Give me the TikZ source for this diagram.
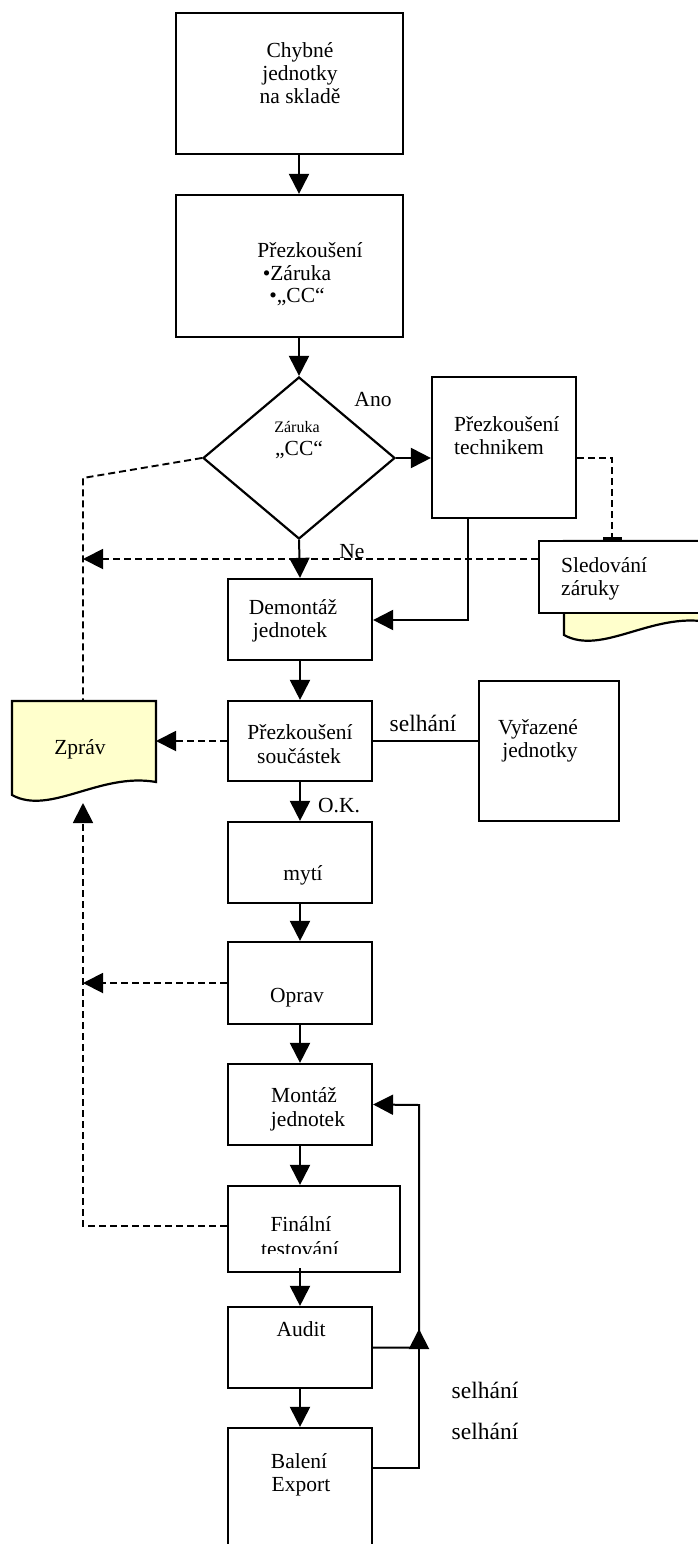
\documentclass[tikz,border=0pt]{standalone}
\usepackage{fontspec}
\setmainfont{Liberation Serif}
\usetikzlibrary{arrows.meta,shapes.geometric}
\definecolor{docyellow}{RGB}{255,255,204}
\tikzset{
  box/.style={draw, line width=2.2pt, inner sep=0pt, fill=white},
  lbl/.style={font=\fontsize{21.5}{23}\selectfont, inner sep=0pt, anchor=base},
  lbll/.style={lbl, anchor=base west},
  biglbl/.style={font=\fontsize{23.5}{26}\selectfont, inner sep=0pt, anchor=base},
  smalllbl/.style={font=\fontsize{16}{18}\selectfont, inner sep=0pt, anchor=base},
  flow/.style={line width=2pt, -{Triangle[length=20pt,width=20pt]}},
  link/.style={line width=2pt},
  ref/.style={line width=1.9pt, dash pattern=on 7pt off 4pt},
  refarrow/.style={ref, -{Triangle[length=20pt,width=20pt]}},
  docshape/.style={fill=docyellow, draw, line width=2.2pt},
}
\begin{document}
\begin{tikzpicture}[x=1pt, y=-1pt]
\useasboundingbox (0,0) rectangle (698,1544);
\clip (0,0) rectangle (698,1544);

% --- main column boxes
\node[box, minimum width=227pt, minimum height=141pt] (stock) at (289.5,83.5) {};
\node[box, minimum width=227pt, minimum height=142pt] (check) at (289.5,266) {};
\node[box, diamond, minimum width=192pt, minimum height=162pt] (warr) at (299,458) {};
\node[box, minimum width=144pt, minimum height=141pt] (tech) at (504,447.5) {};

% warranty tracking: document behind a white box
\filldraw[docshape] (564,541) -- (708,541) -- (708,622)
  .. controls (652,612) and (602,656) .. (564,635) -- cycle;
\node[box, minimum width=181pt, minimum height=72pt] (track) at (629.5,577) {};

% report document
\filldraw[docshape] (12,701) -- (156,701) -- (156,782)
  .. controls (100,772) and (50,816) .. (12,795) -- cycle;
\coordinate (repE) at (156,741);
\coordinate (repN) at (83,701);
\coordinate (repS) at (83,803);
\coordinate (railTop) at (83,478);
\coordinate (railBot) at (83,1226);
\coordinate (ne) at (83,559);

\node[box, minimum width=144pt, minimum height=81pt] (dis) at (300,619.5) {};
\node[box, minimum width=144pt, minimum height=80pt] (parts) at (300,741) {};
\node[box, minimum width=140pt, minimum height=140pt] (scrap) at (549,751) {};
\node[box, minimum width=144pt, minimum height=81pt] (wash) at (300,862.5) {};
\node[box, minimum width=144pt, minimum height=82pt] (repair) at (300,983) {};
\node[box, minimum width=144pt, minimum height=81pt] (assy) at (300,1104.5) {};
\node[box, minimum width=172pt, minimum height=86pt] (final) at (314,1229) {};
\node[box, minimum width=144pt, minimum height=81pt] (audit) at (300,1347.5) {};
\node[box, minimum width=144pt, minimum height=132pt] (pack) at (300,1494) {};

% --- texts
\node[lbl] (t-stock-1) at (300,58) {Chybné};
\node[lbl] (t-stock-2) at (300,81) {jednotky};
\node[lbl] (t-stock-3) at (300,104) {na skladě};
\node[lbl] (t-check-1) at (310,257) {Přezkoušení};
\node[lbl] (t-check-2) at (297,280) {•Záruka};
\node[lbl] (t-check-3) at (297,302) {•„CC“};
\node[smalllbl] (t-warr-1) at (297,432) {Záruka};
\node[lbl] (t-warr-2) at (299,455) {„CC“};
\node[lbl] (t-yes) at (373,406) {Ano};
\node[lbl] (t-no) at (352,558) {Ne};
\node[lbll] (t-tech-1) at (454,431) {Přezkoušení};
\node[lbll] (t-tech-2) at (454,454) {technikem};
\node[lbll] (t-track-1) at (561,572) {Sledování};
\node[lbll] (t-track-2) at (561,595) {záruky};
\node[lbl] (t-dis-1) at (293,614) {Demontáž};
\node[lbl] (t-dis-2) at (290,637) {jednotek};
\node[lbl] (t-rep) at (80,754) {Zpráv};
\node[lbl] (t-parts-1) at (300,739) {Přezkoušení};
\node[lbl] (t-parts-2) at (299,763) {součástek};
\node[biglbl] (t-fail-1) at (423,731) {selhání};
\node[lbl] (t-scrap-1) at (538,734) {Vyřazené};
\node[lbl] (t-scrap-2) at (540,757) {jednotky};
\node[lbl] (t-ok) at (339,812) {O.K.};
\node[lbl] (t-wash) at (303,880) {mytí};
\node[lbl] (t-repair) at (297,1002) {Oprav};
\node[lbl] (t-assy-1) at (304,1102) {Montáž};
\node[lbl] (t-assy-2) at (308,1126) {jednotek};
\node[lbl] (t-final-1) at (301,1231) {Finální};
\begin{scope}
  \clip (228,1186) rectangle (400,1253);
  \node[lbl] (t-final-2) at (300,1256) {testování};
\end{scope}
\node[lbl] (t-audit) at (301,1336) {Audit};
\node[lbl] (t-pack-1) at (299,1468) {Balení};
\node[lbl] (t-pack-2) at (301,1491) {Export};
\node[biglbl] (t-fail-2) at (485,1398) {selhání};
\node[biglbl] (t-fail-3) at (485,1439) {selhání};

% --- solid flow
\draw[flow] (stock.south -| warr.north) -- (check.north -| warr.north);
\draw[flow] (check.south -| warr.north) -- (warr.north);
\draw[flow] (warr.east) -- (warr.east -| tech.west);
\draw[flow] (warr.south) -- (dis.north);
\coordinate (tdrop) at (468,620);
\draw[flow] (tdrop |- tech.south) -- (tdrop) -- (dis.east |- tdrop);
\draw[flow] (dis.south) -- (parts.north);
\draw[link] (parts.east) -- (parts.east -| scrap.west);
\draw[flow] (parts.south) -- (wash.north);
\draw[flow] (wash.south) -- (repair.north);
\draw[flow] (repair.south) -- (assy.north);
\draw[flow] (assy.south) -- (assy.south |- final.north);
\draw[flow] ([yshift=5pt]final.south -| audit.north) -- (audit.north);
\draw[flow] (audit.south) -- (pack.north);
\coordinate (ret) at (419,1105);
\draw[flow] (audit.east) -| (ret) -- (assy.east);
\coordinate (rejB) at (419,1468);
\coordinate (retTip) at (419,1329);
\draw[flow] (rejB -| pack.east) -- (rejB) -- (retTip);

% --- dashed reporting lines
\coordinate (tap) at (612,458);
\draw[ref, -{Bar[width=19pt, line width=3pt]}] (warr.east -| tech.east) -- (tap) -- (tap |- track.north);
\draw[ref] (warr.west) -- (railTop) -- (repN);
\draw[refarrow] (track.west |- ne) -- (ne);
\draw[refarrow] (parts.west) -- (parts.west -| repE);
\draw[refarrow] (repair.west) -- (repair.west -| railTop);
\draw[refarrow] (final.west |- railBot) -- (railBot) -- (repS);
\end{tikzpicture}
\end{document}
